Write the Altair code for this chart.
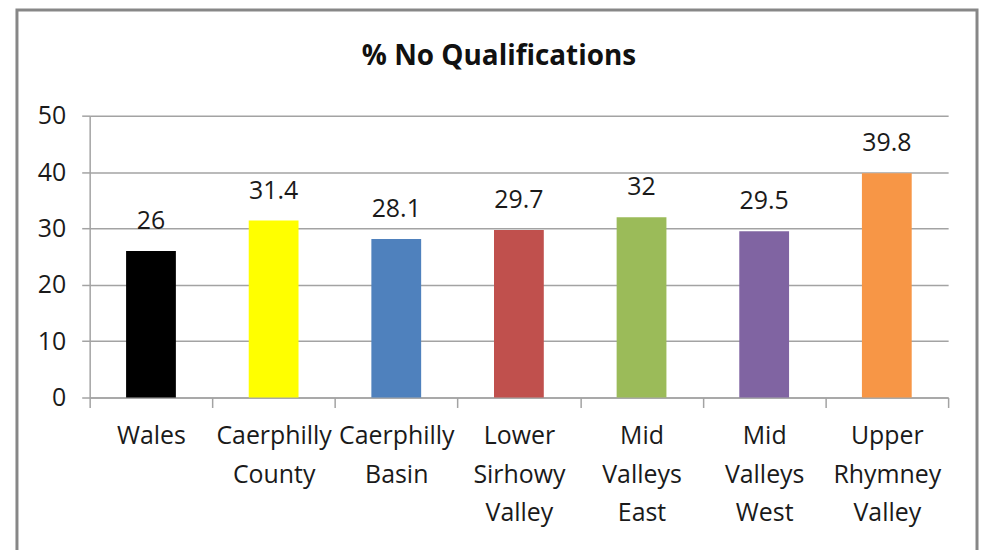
import altair as alt
import pandas as pd

areas = ["Wales", "Caerphilly County", "Caerphilly Basin", "Lower Sirhowy Valley",
         "Mid Valleys East", "Mid Valleys West", "Upper Rhymney Valley"]
values = [26, 31.4, 28.1, 29.7, 32, 29.5, 39.8]
colors = ["#000000", "#FFFF00", "#4F81BD", "#C0504D", "#9BBB59", "#8064A2", "#F79646"]
y_ticks = [0, 10, 20, 30, 40, 50]

df = pd.DataFrame({"area": areas, "value": values})

FONT = "Open Sans"
GRID = "#a3a3a3"

x_enc = alt.X("area:N", sort=None, title=None,
              scale=alt.Scale(paddingInner=0, paddingOuter=0),
              axis=alt.Axis(labelAngle=0, labelExpr="split(datum.label, ' ')",
                            labelFont=FONT, labelFontSize=25, labelColor="#1a1a1a",
                            labelLineHeight=39, labelPadding=16, labelBaseline="top",
                            tickBand="extent", tickSize=10, tickColor=GRID, tickWidth=1.5,
                            domainColor=GRID, domainWidth=1.5, grid=False))
y_enc = alt.Y("value:Q", title=None,
              scale=alt.Scale(domain=[0, 50], nice=False),
              axis=alt.Axis(values=y_ticks, labelFont=FONT, labelFontSize=25,
                            labelColor="#1a1a1a", labelPadding=16, tickSize=8,
                            tickColor=GRID, tickWidth=1.5, domainColor=GRID, domainWidth=1.5,
                            gridColor=GRID, gridWidth=1.5))

bars = alt.Chart(df).mark_bar(width=alt.RelativeBandSize(0.406)).encode(
    x=x_enc, y=y_enc,
    color=alt.Color("area:N", sort=None, legend=None,
                    scale=alt.Scale(domain=areas, range=colors)),
)

labels = alt.Chart(df).mark_text(font=FONT, fontSize=25, color="#1a1a1a",
                                 baseline="alphabetic", dy=-22).encode(
    x=alt.X("area:N", sort=None), y="value:Q", text=alt.Text("value:Q"))

frame = alt.Chart(pd.DataFrame({"f": [0]})).mark_rect(
    filled=False, stroke="#878787", strokeWidth=3).encode(
    x=alt.value(-73), x2=alt.value(891), y=alt.value(-106), y2=alt.value(470))

chart = alt.layer(frame, bars, labels).properties(
    width=862, height=283,
    title=alt.TitleParams("% No Qualifications", font=FONT, fontSize=28,
                          fontWeight="bold", color="#111111", anchor="middle",
                          baseline="alphabetic", dx=-20, offset=-85),
    autosize=alt.AutoSizeParams(type="none"),
    padding={"left": 82, "top": 107, "right": 32, "bottom": 152},
).configure_view(stroke=None)

chart.save("out.html", embed_options={"renderer": "svg", "actions": False})
